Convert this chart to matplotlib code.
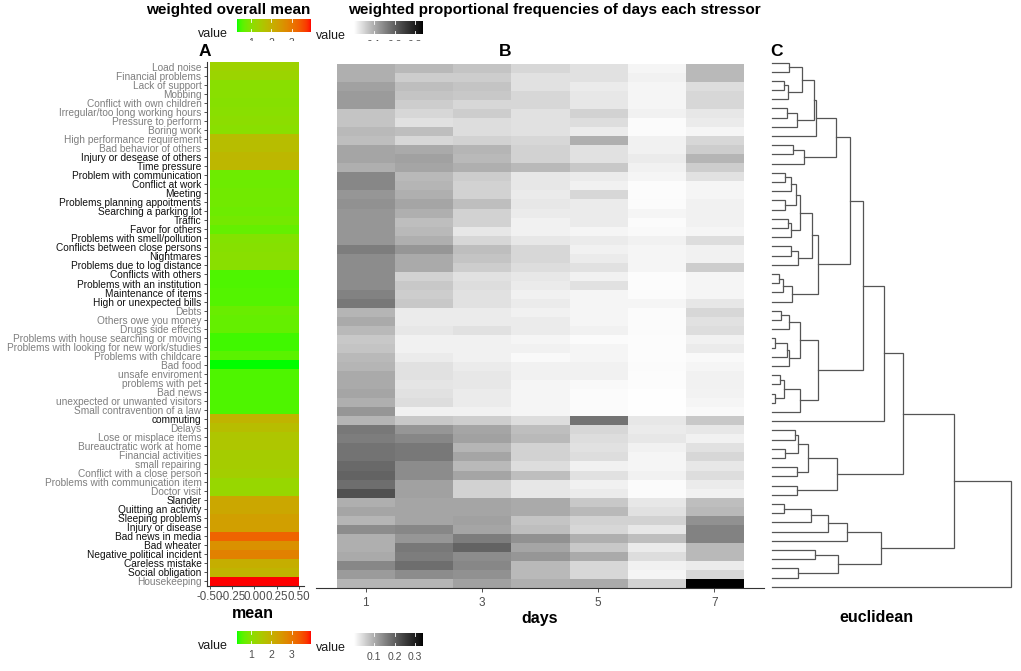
import numpy as np
import matplotlib
matplotlib.use("Agg")
import matplotlib.pyplot as plt
from matplotlib.colors import ListedColormap, Normalize
from matplotlib.patches import Rectangle

plt.rcParams["font.family"] = ["Liberation Sans", "DejaVu Sans"]

# ---------------- data ----------------
stressors = [
    "Load noise", "Financial problems", "Lack of support", "Mobbing",
    "Conflict with own children", "Irregular/too long working hours",
    "Pressure to perform", "Boring work", "High performance requirement",
    "Bad behavior of others", "Injury or desease of others", "Time pressure",
    "Problem with communication", "Conflict at work", "Meeting",
    "Problems planning appoitments", "Searching a parking lot", "Traffic",
    "Favor for others", "Problems with smell/pollution",
    "Conflicts between close persons", "Nightmares",
    "Problems due to log distance", "Conflicts with others",
    "Problems with an institution", "Maintenance of items",
    "High or unexpected bills", "Debts", "Others owe you money",
    "Drugs side effects", "Problems with house searching or moving",
    "Problems with looking for new work/studies", "Problems with childcare",
    "Bad food", "unsafe enviroment", "problems with pet", "Bad news",
    "unexpected or unwanted visitors", "Small contravention of a law",
    "commuting", "Delays", "Lose or misplace items",
    "Bureauctratic work at home", "Financial activities", "small repairing",
    "Conflict with a close person", "Problems with communication item",
    "Doctor visit", "Slander", "Quitting an activity", "Sleeping problems",
    "Injury or disease", "Bad news in media", "Bad wheater",
    "Negative political incident", "Careless mistake", "Social obligation",
    "Housekeeping",
]
dark_label = [0] * 10 + [1] * 17 + [0] * 12 + [1] + [0] * 8 + [1] * 9 + [0]

mean_value = [
    1.33, 1.29, 1.04, 1.04, 1.00, 1.04, 1.07, 1.04, 1.77, 1.77,
    1.88, 1.88, 0.75, 0.75, 0.78, 0.78, 0.75, 0.82, 0.67, 0.97,
    1.00, 1.04, 1.04, 0.53, 0.53, 0.56, 0.56, 0.71, 0.67, 0.67,
    0.46, 0.46, 0.60, 0.31, 0.53, 0.53, 0.53, 0.53, 0.53, 1.95,
    1.77, 1.58, 1.58, 1.44, 1.44, 1.40, 1.22, 1.22, 2.20, 2.20,
    2.35, 2.35, 3.29, 2.60, 2.86, 2.06, 1.95, 3.95,
]

days = [1, 2, 3, 4, 5, 6, 7]
day1 = [.097, .097, .116, .122, .122, .072, .072, .085, .078, .110,
        .110, .097, .148, .148, .129, .135, .129, .129, .129, .129,
        .162, .142, .142, .142, .142, .155, .169, .091, .103, .085,
        .066, .072, .085, .091, .103, .103, .110, .097, .129, .091,
        .169, .162, .175, .175, .189, .196, .182, .224, .097, .110,
        .091, .142, .097, .097, .103, .148, .122, .091]
day2 = [.085, .060, .078, .072, .060, .048, .036, .078, .048, .103,
        .116, .110, .085, .091, .097, .110, .097, .078, .085, .097,
        .129, .103, .103, .054, .066, .060, .066, .024, .024, .030,
        .018, .018, .024, .036, .036, .032, .036, .042, .018, .066,
        .129, .148, .169, .169, .142, .142, .116, .116, .110, .110,
        .110, .148, .129, .169, .162, .182, .142, .091]
day3 = [.072, .060, .072, .066, .048, .060, .042, .042, .054, .091,
        .085, .097, .060, .054, .054, .078, .054, .054, .030, .048,
        .078, .072, .060, .036, .042, .036, .036, .024, .024, .036,
        .018, .018, .018, .024, .030, .030, .024, .024, .018, .060,
        .110, .116, .091, .110, .085, .110, .054, .054, .110, .110,
        .116, .110, .162, .196, .142, .148, .135, .116]
day4 = [.048, .036, .036, .048, .048, .036, .036, .036, .048, .054,
        .054, .085, .030, .030, .024, .030, .024, .018, .018, .030,
        .048, .048, .042, .030, .024, .018, .024, .018, .024, .024,
        .012, .018, .008, .018, .018, .012, .012, .012, .012, .042,
        .078, .085, .054, .054, .042, .078, .030, .030, .103, .103,
        .072, .078, .135, .110, .129, .085, .085, .097]
day5 = [.036, .036, .024, .030, .030, .054, .042, .024, .097, .036,
        .036, .066, .024, .018, .048, .024, .024, .024, .012, .024,
        .018, .024, .036, .018, .036, .012, .012, .012, .012, .018,
        .006, .012, .012, .018, .018, .008, .006, .006, .006, .175,
        .048, .042, .036, .042, .018, .036, .018, .024, .066, .085,
        .054, .048, .097, .066, .103, .048, .048, .103]
day6 = [.012, .018, .012, .012, .012, .018, .006, .006, .018, .018,
        .024, .018, .012, .004, .004, .006, .012, .006, .008, .018,
        .012, .012, .012, .004, .004, .006, .012, .006, .006, .006,
        .004, .004, .004, .006, .004, .004, .001, .001, .001, .030,
        .024, .030, .018, .012, .012, .018, .006, .006, .030, .036,
        .054, .030, .078, .024, .042, .018, .012, .054]
day7 = [.085, .085, .042, .048, .048, .030, .024, .012, .048, .060,
        .091, .060, .036, .012, .012, .018, .018, .018, .012, .042,
        .018, .018, .060, .012, .012, .012, .030, .048, .036, .042,
        .018, .024, .008, .012, .018, .018, .016, .012, .008, .066,
        .030, .018, .036, .048, .030, .042, .024, .018, .078, .085,
        .135, .155, .155, .085, .085, .024, .048, .340]

# hierarchical clustering (euclidean): (child a, child b, merge height);
# leaves are 0..57, merge k creates cluster 58 + k
merges = [
    (0, 1, 0.170), (2, 3, 0.120), (59, 4, 0.163), (58, 60, 0.303),
    (5, 6, 0.147), (62, 7, 0.253), (61, 63, 0.423), (64, 8, 0.437),
    (9, 10, 0.213), (66, 11, 0.323), (65, 67, 0.637),
    (12, 13, 0.130), (69, 14, 0.190), (15, 16, 0.130), (70, 71, 0.237),
    (17, 18, 0.157), (73, 19, 0.190), (72, 74, 0.280), (20, 21, 0.190),
    (76, 22, 0.263), (75, 77, 0.397), (23, 24, 0.070), (79, 25, 0.113),
    (80, 26, 0.197), (78, 81, 0.457), (68, 82, 0.780),
    (27, 28, 0.090), (84, 29, 0.170), (30, 31, 0.030), (86, 32, 0.147),
    (87, 33, 0.170), (85, 88, 0.280), (34, 35, 0.080), (36, 37, 0.030),
    (90, 91, 0.120), (92, 38, 0.280), (89, 93, 0.457), (83, 94, 0.905),
    (95, 39, 1.123),
    (40, 41, 0.230), (42, 43, 0.130), (97, 98, 0.263), (44, 45, 0.247),
    (99, 100, 0.357), (46, 47, 0.253), (101, 102, 0.647), (96, 103, 1.307),
    (48, 49, 0.123), (105, 50, 0.390), (106, 51, 0.563), (107, 52, 0.747),
    (53, 54, 0.430), (55, 56, 0.263), (109, 110, 0.663), (108, 111, 1.087),
    (104, 112, 1.820), (113, 57, 2.387),
]


# ---------------- colour ramps (ggplot interpolates in CIELAB) ----------------
M = np.array([[0.4124, 0.3576, 0.1805],
              [0.2126, 0.7152, 0.0722],
              [0.0193, 0.1192, 0.9505]])
WHITE = np.array([0.95047, 1.0, 1.08883])


def to_lab(rgb):
    rgb = np.asarray(rgb, float)
    lin = np.where(rgb <= 0.04045, rgb / 12.92, ((rgb + 0.055) / 1.055) ** 2.4)
    xyz = lin @ M.T / WHITE
    f = np.where(xyz > 216 / 24389, np.cbrt(xyz), (24389 / 27 * xyz + 16) / 116)
    return np.array([116 * f[1] - 16, 500 * (f[0] - f[1]), 200 * (f[1] - f[2])])


def to_rgb(lab):
    L, a, b = lab[:, 0], lab[:, 1], lab[:, 2]
    fy = (L + 16) / 116
    f = np.stack([fy + a / 500, fy, fy - b / 200], -1)
    xyz = np.where(f ** 3 > 216 / 24389, f ** 3, (116 * f - 16) / (24389 / 27)) * WHITE
    lin = xyz @ np.linalg.inv(M).T
    lin = np.clip(lin, 0, 1)
    rgb = np.where(lin <= 0.0031308, 12.92 * lin, 1.055 * lin ** (1 / 2.4) - 0.055)
    return np.clip(rgb, 0, 1)


def lab_ramp(c0, c1, n=256):
    t = np.linspace(0, 1, n)[:, None]
    lab = to_lab(c0) * (1 - t) + to_lab(c1) * t
    return ListedColormap(to_rgb(lab))


cmap_mean = lab_ramp([0, 1, 0], [1, 0, 0])
cmap_freq = lab_ramp([1, 1, 1], [0, 0, 0])

freq = np.column_stack([day1, day2, day3, day4, day5, day6, day7])
norm_mean = Normalize(min(mean_value), max(mean_value))
norm_freq = Normalize(freq.min(), freq.max())

# ---------------- figure ----------------
W, H = 1021, 671
fig = plt.figure(figsize=(W / 100, H / 100), dpi=100)


def px_axes(x0, y0, x1, y1):
    return fig.add_axes([x0 / W, 1 - y1 / H, (x1 - x0) / W, (y1 - y0) / H])


n = len(stressors)
axis_col = "#333333"
tick_col = "#4D4D4D"

# panel A
axA = px_axes(207, 62.3, 303.5, 586)
axA.imshow(np.array(mean_value)[:, None], cmap=cmap_mean, norm=norm_mean,
           extent=(-0.5, 0.5, n, 0), aspect="auto", interpolation="nearest")
axA.set_xlim(-0.534, 0.551)
axA.set_ylim(n, 0)
axA.set_yticks(np.arange(n) + 0.5)
axA.set_yticklabels(stressors)
for lbl, dk in zip(axA.get_yticklabels(), dark_label):
    lbl.set_color("#111111" if dk else "#7F7F7F")
axA.set_xticks([-0.5, -0.25, 0, 0.25, 0.5])
axA.set_xticklabels(["-0.50", "-0.25", "0.00", "0.25", "0.50"])
axA.tick_params(axis="y", labelsize=7.3, length=2.5, width=0.6, pad=1.5, color=axis_col)
axA.tick_params(axis="x", labelsize=8.3, length=2.5, width=0.6, pad=1, color=axis_col,
                labelcolor=tick_col)
for s in ["top", "right"]:
    axA.spines[s].set_visible(False)
for s in ["left", "bottom"]:
    axA.spines[s].set_color(axis_col)
    axA.spines[s].set_linewidth(0.8)

# panel B
axB = px_axes(316.4, 64, 763.6, 587.7)
axB.imshow(freq, cmap=cmap_freq, norm=norm_freq,
           extent=(0.5, 7.5, n, 0), aspect="auto", interpolation="nearest")
axB.set_xlim(0.15, 7.85)
axB.set_ylim(n, 0)
axB.set_xticks(days[::2])
axB.set_yticks([])
axB.tick_params(axis="x", labelsize=8.5, length=3, width=0.6, pad=4, color=axis_col,
                labelcolor=tick_col)
for s in ["top", "right", "left"]:
    axB.spines[s].set_visible(False)
axB.spines["bottom"].set_color(axis_col)
axB.spines["bottom"].set_linewidth(0.8)

# panel C: dendrogram
axC = px_axes(772, 62.5, 1010.7, 586.7)
pos = {i: float(i) for i in range(n)}
hgt = {i: 0.0 for i in range(n)}
for k, (a, b, h) in enumerate(merges):
    axC.plot([hgt[a], h, h, hgt[b]], [pos[a], pos[a], pos[b], pos[b]],
             color="#555555", lw=0.9, clip_on=False, solid_joinstyle="miter")
    pos[n + k] = (pos[a] + pos[b]) / 2
    hgt[n + k] = h
axC.set_xlim(0, merges[-1][2])
axC.set_ylim(n - 1, 0)
axC.axis("off")

# panel letters and axis titles
for x, s in [(205, "A"), (505, "B"), (776, "C")]:
    fig.text(x / W, 1 - 52 / H, s, ha="center", va="center", weight="bold", size=12.5)
fig.text(253 / W, 1 - 614 / H, "mean", ha="center", va="center", weight="bold", size=11.5)
fig.text(540 / W, 1 - 618 / H, "days", ha="center", va="center", weight="bold", size=11.5)
fig.text(876 / W, 1 - 618 / H, "euclidean", ha="center", va="center", weight="bold", size=11.5)


# legends (colourbars)
def colorbar(x0, y0, x1, y1, cmap, norm, ticks, labels, title_x, title_y):
    ax = px_axes(x0, y0, x1, y1)
    grad = np.linspace(norm.vmin, norm.vmax, 256)[None, :]
    ax.imshow(grad, cmap=cmap, norm=norm, aspect="auto",
              extent=(norm.vmin, norm.vmax, 0, 1))
    ax.set_xlim(norm.vmin, norm.vmax)
    ax.set_ylim(0, 1)
    ax.axis("off")
    for t, lab in zip(ticks, labels):
        ax.plot([t, t], [0, 0.2], color="white", lw=0.6)
        ax.plot([t, t], [0.8, 1], color="white", lw=0.6)
        ax.annotate(lab, (t, 0), xycoords=("data", "axes fraction"),
                    xytext=(0, -8), textcoords="offset points",
                    ha="center", va="center", size=7.5, color=tick_col,
                    annotation_clip=False)
    fig.text(title_x / W, 1 - title_y / H, "value", ha="center", va="center",
             size=9, color="#1A1A1A")


for dy in (0, 612):
    colorbar(237, 19 + dy, 311, 32 + dy, cmap_mean, norm_mean,
             [1, 2, 3], ["1", "2", "3"], 213, 34 + dy)
    colorbar(354, 21 + dy, 423, 34 + dy, cmap_freq, norm_freq,
             [0.1, 0.2, 0.3], ["0.1", "0.2", "0.3"], 331, 36 + dy)

# the top legends are cut by the panels below them
fig.add_artist(Rectangle((230 / W, 1 - 50 / H), 200 / W, 8.5 / H,
                         transform=fig.transFigure, facecolor="white",
                         edgecolor="none", zorder=10))

fig.text(228 / W, 1 - 10 / H, "weighted overall mean", ha="center", va="center",
         weight="bold", size=11)
fig.text(348 / W, 1 - 10 / H, "weighted proportional frequencies of days each stressor",
         ha="left", va="center", weight="bold", size=11)

fig.savefig("out.png", dpi=100)
